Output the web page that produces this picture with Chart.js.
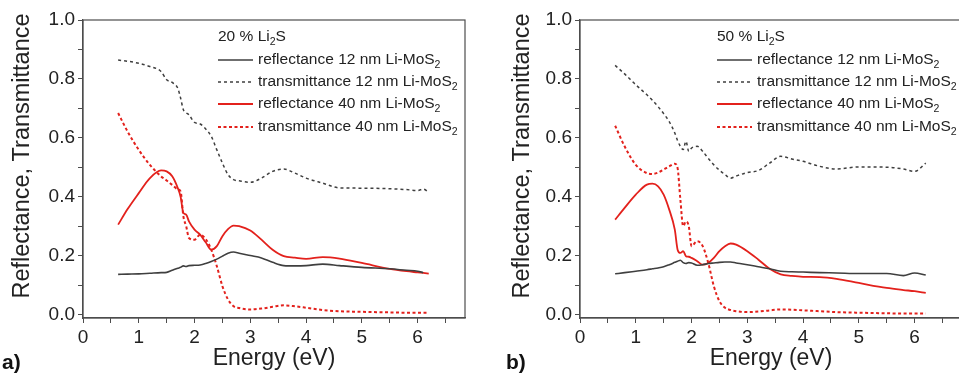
<!DOCTYPE html>
<html>
<head>
<meta charset="utf-8">
<script src="https://cdn.jsdelivr.net/npm/chart.js@4/dist/chart.umd.min.js"></script>
<style>
  html, body { margin: 0; padding: 0; background: #fff; overflow: hidden; width: 959px; height: 373px; }
  .panel { position: absolute; top: 0; height: 373px; }
  #pa { left: 0; width: 480px; }
  #pb { left: 480px; width: 485px; }
  .tag { position: absolute; font: bold 21px "Liberation Sans", Arial, sans-serif; color: #111; line-height: 21px; }
</style>
</head>
<body>
<div class="panel" id="pa"><canvas id="ca" width="480" height="373"></canvas></div>
<div class="panel" id="pb"><canvas id="cb" width="485" height="373"></canvas></div>
<div class="tag" style="left:2px;top:351px">a)</div>
<div class="tag" style="left:506px;top:351px">b)</div>
<script>
// ---- panel a) 20 % Li2S ----
const energyA = [0.63, 0.8, 1.0, 1.2, 1.4, 1.5, 1.6, 1.7, 1.75, 1.8, 1.85, 1.9, 2.0, 2.1, 2.2, 2.3, 2.4, 2.5, 2.6, 2.7, 2.8, 3.0, 3.2, 3.4, 3.6, 3.8, 4.0, 4.3, 4.6, 5.0, 5.5, 5.8, 6.0, 6.1, 6.2];
const refl12A  = [0.136, 0.137, 0.138, 0.140, 0.142, 0.143, 0.150, 0.157, 0.160, 0.165, 0.163, 0.166, 0.167, 0.168, 0.173, 0.180, 0.188, 0.198, 0.208, 0.212, 0.208, 0.200, 0.192, 0.177, 0.166, 0.165, 0.166, 0.171, 0.166, 0.160, 0.155, 0.150, 0.147, 0.142, null];
const trans12A = [0.864, 0.860, 0.853, 0.842, 0.825, 0.797, 0.788, 0.768, 0.735, 0.695, 0.685, 0.678, 0.652, 0.647, 0.630, 0.605, 0.559, 0.514, 0.475, 0.458, 0.454, 0.449, 0.463, 0.486, 0.494, 0.480, 0.463, 0.446, 0.430, 0.429, 0.427, 0.424, 0.421, 0.426, 0.415];
const refl40A  = [0.305, 0.358, 0.412, 0.463, 0.489, 0.486, 0.469, 0.429, 0.400, 0.345, 0.339, 0.316, 0.288, 0.271, 0.245, 0.220, 0.232, 0.266, 0.290, 0.302, 0.300, 0.285, 0.254, 0.220, 0.198, 0.193, 0.189, 0.195, 0.190, 0.175, 0.155, 0.147, 0.143, 0.141, 0.139];
const trans40A = [0.684, 0.621, 0.559, 0.508, 0.469, 0.455, 0.440, 0.425, 0.418, 0.333, 0.300, 0.260, 0.254, 0.271, 0.256, 0.220, 0.164, 0.096, 0.051, 0.028, 0.022, 0.017, 0.020, 0.026, 0.031, 0.028, 0.023, 0.015, 0.011, 0.009, 0.007, 0.006, 0.006, 0.006, 0.006];

// ---- panel b) 50 % Li2S ----
const energyB = [0.63, 0.8, 1.0, 1.2, 1.3, 1.4, 1.5, 1.6, 1.7, 1.75, 1.8, 1.85, 1.9, 1.95, 2.0, 2.1, 2.2, 2.3, 2.4, 2.5, 2.6, 2.7, 2.8, 3.0, 3.2, 3.4, 3.6, 3.8, 4.0, 4.3, 4.6, 5.0, 5.5, 5.8, 6.0, 6.2];
const refl12B  = [0.138, 0.142, 0.147, 0.152, 0.155, 0.158, 0.162, 0.169, 0.177, 0.181, 0.184, 0.176, 0.173, 0.176, 0.175, 0.167, 0.169, 0.173, 0.175, 0.177, 0.178, 0.178, 0.175, 0.169, 0.162, 0.155, 0.147, 0.145, 0.144, 0.142, 0.141, 0.139, 0.139, 0.132, 0.141, 0.134];
const trans12B = [0.846, 0.817, 0.780, 0.746, 0.727, 0.706, 0.682, 0.655, 0.616, 0.590, 0.571, 0.560, 0.588, 0.554, 0.565, 0.571, 0.554, 0.530, 0.508, 0.490, 0.475, 0.463, 0.470, 0.482, 0.489, 0.514, 0.537, 0.528, 0.520, 0.503, 0.494, 0.501, 0.500, 0.494, 0.486, 0.514];
const refl40B  = [0.322, 0.362, 0.407, 0.441, 0.444, 0.435, 0.407, 0.356, 0.288, 0.220, 0.209, 0.215, 0.198, 0.196, 0.192, 0.181, 0.169, 0.175, 0.192, 0.215, 0.232, 0.241, 0.237, 0.215, 0.186, 0.155, 0.136, 0.131, 0.128, 0.127, 0.121, 0.107, 0.090, 0.083, 0.079, 0.073];
const trans40B = [0.641, 0.571, 0.508, 0.480, 0.477, 0.482, 0.492, 0.503, 0.512, 0.497, 0.390, 0.300, 0.316, 0.300, 0.232, 0.249, 0.232, 0.175, 0.096, 0.045, 0.023, 0.015, 0.011, 0.008, 0.010, 0.014, 0.017, 0.016, 0.014, 0.011, 0.008, 0.006, 0.004, 0.003, 0.003, 0.003];

// legend labels, "_2" marks a subscript
const seriesLabels = ['reflectance 12 nm Li-MoS_2', 'transmittance 12 nm Li-MoS_2', 'reflectance 40 nm Li-MoS_2', 'transmittance 40 nm Li-MoS_2'];
const xTitle = 'Energy (eV)';
const yTitle = 'Reflectance, Transmittance';

const FONT = '"Liberation Sans", Arial, sans-serif';
const GREY = '#3f3f3f';
const RED = '#e3211c';
const FRAME = '#4d4d4d';
const TEXT = '#222';

const styles = [
  { color: GREY, width: 1.6, dash: [] },
  { color: GREY, width: 1.5, dash: [3, 3] },
  { color: RED, width: 1.8, dash: [] },
  { color: RED, width: 2, dash: [3, 2.5] },
];

// draw text where "_x" becomes a lowered, smaller x
function drawRich(ctx, text, x, y, size) {
  const parts = text.split(/_(.)/);
  parts.forEach((p, i) => {
    if (!p) return;
    const sub = i % 2 === 1;
    ctx.font = (sub ? size * 0.68 : size) + 'px ' + FONT;
    ctx.fillText(p, x, sub ? y + size * 0.3 : y);
    x += ctx.measureText(p).width;
  });
}

const legendPlugin = {
  id: 'sketchLegend',
  afterDraw(chart, args, o) {
    const ctx = chart.ctx;
    ctx.save();
    ctx.textBaseline = 'middle';
    ctx.fillStyle = TEXT;
    drawRich(ctx, o.header, o.x, o.headerY, 15.5);
    chart.data.datasets.forEach((ds, i) => {
      const y = o.rowY[i];
      ctx.beginPath();
      ctx.strokeStyle = ds.borderColor;
      ctx.lineWidth = ds.borderWidth;
      ctx.setLineDash(ds.borderDash);
      ctx.moveTo(o.x, y);
      ctx.lineTo(o.x + 35, y);
      ctx.stroke();
      ctx.setLineDash([]);
      ctx.fillStyle = TEXT;
      drawRich(ctx, seriesLabels[i], o.x + 40, y, 15.5);
    });
    // y axis title sits a bit above the centre of the plot in the original
    ctx.translate(o.yTitleX, o.yTitleY);
    ctx.rotate(-Math.PI / 2);
    ctx.textAlign = 'center';
    ctx.font = '23.5px ' + FONT;
    ctx.fillText(yTitle, 0, 0);
    ctx.restore();
  }
};

const framePlugin = {
  id: 'frame',
  afterDatasetsDraw(chart) {
    const { ctx, chartArea: a } = chart;
    ctx.save();
    ctx.strokeStyle = FRAME;
    ctx.lineWidth = 1.2;
    ctx.strokeRect(a.left, a.top, a.right - a.left, a.bottom - a.top);
    ctx.restore();
  }
};

function makeChart(id, energy, values, cfg) {
  const datasets = values.map((vals, i) => ({
    label: seriesLabels[i],
    data: energy.map((e, k) => ({ x: e, y: vals[k] })).filter(p => p.y !== null),
    borderColor: styles[i].color,
    borderWidth: styles[i].width,
    borderDash: styles[i].dash,
    pointRadius: 0,
    cubicInterpolationMode: 'monotone',
    fill: false,
  }));
  return new Chart(document.getElementById(id), {
    type: 'line',
    data: { datasets },
    plugins: [legendPlugin, framePlugin],
    options: {
      responsive: false,
      animation: false,
      events: [],
      layout: { padding: cfg.padding },
      plugins: {
        legend: { display: false },
        tooltip: { enabled: false },
        sketchLegend: cfg.legend,
      },
      scales: {
        x: {
          type: 'linear',
          min: 0,
          max: 6.85,
          border: { color: FRAME, width: 1.2 },
          grid: { drawOnChartArea: false, tickLength: 5, color: FRAME },
          ticks: {
            stepSize: 0.5, includeBounds: false, autoSkip: false, maxRotation: 0,
            padding: 3, color: TEXT, font: { family: FONT, size: 19 },
            callback: v => Number.isInteger(v) ? String(v) : '',
          },
          title: { display: true, text: xTitle, color: TEXT, font: { family: FONT, size: 23 }, padding: { top: 0, bottom: 1 } },
          afterFit: s => { s.height = 55; },
        },
        y: {
          min: -0.012,
          max: 1.0,
          border: { color: FRAME, width: 1.2 },
          grid: { drawOnChartArea: false, tickLength: 5, color: FRAME },
          ticks: {
            stepSize: 0.1, includeBounds: false, padding: 3, color: TEXT,
            font: { family: FONT, size: 19 },
            callback: v => { const k = Math.round(v * 10); return k % 2 === 0 ? (k / 10).toFixed(1) : ''; },
          },
          afterFit: s => { s.width = cfg.yWidth; },
        },
      },
    },
  });
}

makeChart('ca', energyA, [refl12A, trans12A, refl40A, trans40A], {
  padding: { left: 9, top: 20, right: 15, bottom: 0 },
  yWidth: 74,
  legend: { header: '20 % Li_2S', x: 218, headerY: 37, rowY: [60, 82, 104, 127], yTitleX: 23, yTitleY: 156 },
});

makeChart('cb', energyB, [refl12B, trans12B, refl40B, trans40B], {
  padding: { left: 29, top: 20, right: 3, bottom: 0 },
  yWidth: 71,
  legend: { header: '50 % Li_2S', x: 237, headerY: 37, rowY: [60, 82, 104, 127], yTitleX: 43, yTitleY: 156 },
});
</script>
</body>
</html>
